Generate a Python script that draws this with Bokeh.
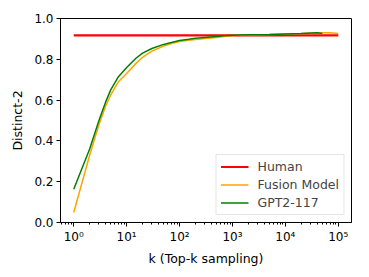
from bokeh.plotting import figure
from bokeh.models import Range1d, FixedTicker, Legend, LegendItem
from bokeh.embed import file_html
from bokeh.resources import INLINE

human_k = [1, 100000]
human_d = [0.917, 0.917]

fusion_k = [1, 2, 3, 4, 5, 7, 10, 15, 20, 30, 50, 70, 100, 150, 200, 300, 500, 700,
            1000, 2000, 5000, 10000, 20000, 50000, 70000, 100000]
fusion_d = [0.049, 0.33, 0.48, 0.57, 0.625, 0.69, 0.73, 0.78, 0.81, 0.84, 0.865, 0.877,
            0.887, 0.893, 0.897, 0.902, 0.907, 0.912, 0.917, 0.919, 0.921, 0.924, 0.926,
            0.93, 0.93, 0.926]

gpt_k = [1, 2, 3, 4, 5, 7, 10, 15, 20, 30, 50, 70, 100, 150, 200, 300, 500, 700,
         1000, 2000, 5000, 10000, 20000, 40000, 50000]
gpt_d = [0.163, 0.36, 0.50, 0.59, 0.65, 0.715, 0.76, 0.805, 0.83, 0.853, 0.873, 0.882,
         0.892, 0.898, 0.903, 0.907, 0.912, 0.915, 0.918, 0.92, 0.922, 0.924, 0.926,
         0.93, 0.927]

x_ticks = [1, 10, 100, 1000, 10000, 100000]
x_tick_labels = ["10\u2070", "10\u00b9", "10\u00b2", "10\u00b3", "10\u2074", "10\u2075"]
y_ticks = [0.0, 0.2, 0.4, 0.6, 0.8, 1.0]
y_tick_labels = ["0.0", "0.2", "0.4", "0.6", "0.8", "1.0"]

p = figure(width=361, height=269, x_axis_type="log", output_backend="svg",
           toolbar_location=None,
           x_range=Range1d(10 ** -0.25, 10 ** 5.25), y_range=Range1d(0, 1.0),
           min_border_left=60, min_border_right=10, min_border_top=18, min_border_bottom=47)

r_h = p.line(human_k, human_d, line_color="red", line_width=2.2)
r_f = p.line(fusion_k, fusion_d, line_color="orange", line_width=1.5)
r_g = p.line(gpt_k, gpt_d, line_color="green", line_width=1.5)

p.xgrid.visible = False
p.ygrid.visible = False
p.outline_line_color = "black"
p.outline_line_width = 1
p.background_fill_color = "white"
p.border_fill_color = "white"

p.xaxis.ticker = FixedTicker(ticks=x_ticks,
                             minor_ticks=[m * 10 ** e for e in range(-1, 6) for m in range(2, 10)])
p.xaxis.major_label_overrides = {t: l for t, l in zip(x_ticks, x_tick_labels)}
p.yaxis.ticker = FixedTicker(ticks=y_ticks)
p.yaxis.major_label_overrides = {t: l for t, l in zip(y_ticks, y_tick_labels)}

for ax in (p.xaxis[0], p.yaxis[0]):
    ax.axis_line_color = "black"
    ax.major_tick_in = 0
    ax.major_tick_out = 4
    ax.minor_tick_in = 0
    ax.minor_tick_out = 2
    ax.major_label_text_font = "DejaVu Sans"
    ax.major_label_text_font_size = "12px"
    ax.major_label_text_color = "black"
    ax.major_label_standoff = 3
    ax.axis_label_text_font = "DejaVu Sans"
    ax.axis_label_text_font_size = "12.5px"
    ax.axis_label_text_font_style = "normal"
    ax.axis_label_text_color = "black"
p.yaxis.minor_tick_out = 0
p.xaxis.axis_label = "k (Top-k sampling)"
p.yaxis.axis_label = "Distinct-2"
p.xaxis.axis_label_standoff = 4
p.yaxis.axis_label_standoff = 6

legend = Legend(items=[LegendItem(label="Human", renderers=[r_h]),
                       LegendItem(label="Fusion Model", renderers=[r_f]),
                       LegendItem(label="GPT2-117", renderers=[r_g])],
                location="bottom_right")
legend.margin = 7
legend.padding = 4
legend.spacing = 3
legend.glyph_width = 28
legend.glyph_height = 15
legend.label_standoff = 9
legend.label_text_font = "DejaVu Sans"
legend.label_text_font_size = "12.5px"
legend.label_height = 15
legend.border_line_color = "#cccccc"
legend.border_line_width = 1
legend.background_fill_alpha = 0.8
p.add_layout(legend, "center")

open("out.html", "w").write(file_html(p, INLINE))
